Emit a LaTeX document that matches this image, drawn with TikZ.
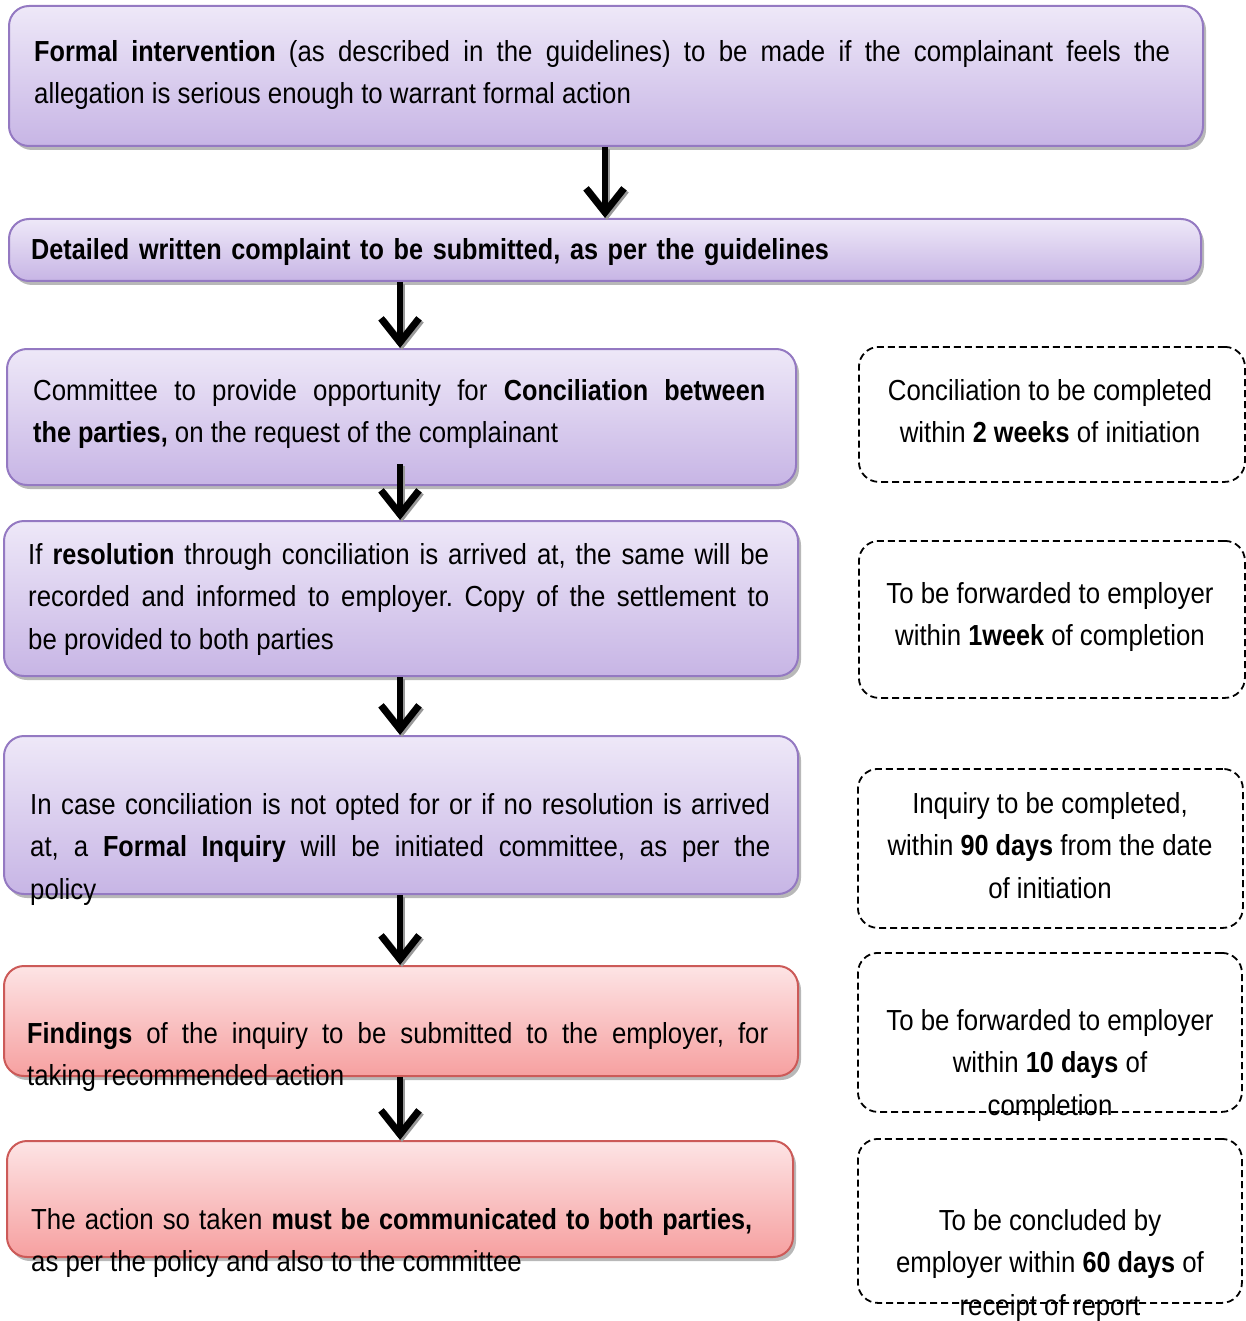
\documentclass[tikz,border=0pt]{standalone}
\usepackage{fontspec}
\setmainfont{Liberation Sans}[FakeStretch=0.89, BoldFeatures={FakeStretch=0.87}]
\usetikzlibrary{arrows.meta,shadows}
\setlength\parindent{0pt}
\hyphenpenalty=10000
\exhyphenpenalty=10000
\frenchspacing
\definecolor{ptop}{HTML}{EEE8F8}
\definecolor{pbot}{HTML}{C7B5E5}
\definecolor{pline}{HTML}{9479C2}
\definecolor{rtop}{HTML}{FDE4E5}
\definecolor{rbot}{HTML}{F6A0A0}
\definecolor{rline}{HTML}{CC5A58}
\tikzset{
  box/.style={draw, line width=2pt, rounded corners=20pt, anchor=north west, inner sep=0pt,
    drop shadow={shadow xshift=3pt, shadow yshift=-4pt, fill=black!35, opacity=0.8}},
  pbox/.style={box, draw=pline, top color=ptop, bottom color=pbot},
  rbox/.style={box, draw=rline, top color=rtop, bottom color=rbot},
  dbox/.style={draw, line width=1.8pt, dash pattern=on 7pt off 4pt, rounded corners=20pt,
    anchor=north west, inner sep=0pt},
  txt/.style={anchor=north west, inner sep=0pt, align=justify,
    font=\fontsize{29}{42.5}\selectfont\frenchspacing},
  ctxt/.style={anchor=north, inner sep=0pt, align=center,
    font=\fontsize{29}{42.5}\selectfont},
  arr/.style={line width=6.5pt, -{Straight Barb[length=24pt,width=38pt,line width=7pt]}},
  arrshadow/.style={arr, draw=black!40, transform canvas={xshift=2pt,yshift=-2pt}}
}
\begin{document}
\begin{tikzpicture}[x=1pt,y=-1pt]
\useasboundingbox (0,0) rectangle (1245,1321);
% main boxes
\node[pbox, minimum width=1194pt, minimum height=140pt] (b1) at (8,5) {};
\node[pbox, minimum width=1192pt, minimum height=62pt] (b2) at (8,218) {};
\node[pbox, minimum width=789pt, minimum height=136pt] (b3) at (6,348) {};
\node[pbox, minimum width=794pt, minimum height=155pt] (b4) at (3,520) {};
\node[pbox, minimum width=794pt, minimum height=158pt] (b5) at (3,735) {};
\node[rbox, minimum width=794pt, minimum height=110pt] (b6) at (3,965) {};
\node[rbox, minimum width=786pt, minimum height=116pt] (b7) at (6,1140) {};
% dashed boxes
\node[dbox, minimum width=386pt, minimum height=135pt] (d1) at (858,346) {};
\node[dbox, minimum width=386pt, minimum height=157pt] (d2) at (858,540) {};
\node[dbox, minimum width=385pt, minimum height=159pt] (d3) at (857,768) {};
\node[dbox, minimum width=384pt, minimum height=159pt] (d4) at (857,952) {};
\node[dbox, minimum width=384pt, minimum height=164pt] (d5) at (857,1138) {};
% texts in main boxes
\node[txt, text width=1136pt] (t1) at (34,40) {\textbf{Formal intervention} (as described in the guidelines) to be made if the complainant feels the\linebreak allegation is serious enough to warrant formal action};
\node[txt, text width=1000pt, align=left] (t2) at (31,238) {\textbf{Detailed written complaint to be submitted, as per the guidelines}};
\node[txt, text width=732pt] (t3) at (33,379) {Committee to provide opportunity for \textbf{Conciliation between}\linebreak \textbf{the parties,} on the request of the complainant};
\node[txt, text width=741pt] (t4) at (28,543) {If \textbf{resolution} through conciliation is arrived at, the same will be\linebreak recorded and informed to employer. Copy of the settlement to\linebreak be provided to both parties};
\node[txt, text width=740pt] (t5) at (30,793) {In case conciliation is not opted for or if no resolution is arrived\linebreak at, a \textbf{Formal Inquiry} will be initiated committee, as per the\linebreak policy};
\node[txt, text width=741pt] (t6) at (27,1022) {\textbf{Findings} of the inquiry to be submitted to the employer, for\linebreak taking recommended action};
\node[txt, text width=721pt] (t7) at (31,1208) {The action so taken \textbf{must be communicated to both parties,}\linebreak as per the policy and also to the committee};
% texts in dashed boxes
\node[ctxt] (s1) at (1050,379) {Conciliation to be completed\\within \textbf{2 weeks} of initiation};
\node[ctxt] (s2) at (1050,582) {To be forwarded to employer\\within \textbf{1week} of completion};
\node[ctxt] (s3) at (1050,792) {Inquiry to be completed,\\within \textbf{90 days} from the date\\of initiation};
\node[ctxt] (s4) at (1050,1009) {To be forwarded to employer\\within \textbf{10 days} of\\completion};
\node[ctxt] (s5) at (1050,1209) {To be concluded by\\employer within \textbf{60 days} of\\receipt of report};
% arrows
\coordinate (ax1) at (605,0);
\coordinate (ax2) at (400,0);
\foreach \s in {arrshadow, arr} {
  \draw[\s] (b1.south -| ax1) -- (b2.north -| ax1);
  \draw[\s] (b2.south -| ax2) -- (b3.north -| ax2);
  \draw[\s] ([yshift=22pt]b3.south -| ax2) -- (b4.north -| ax2);
  \draw[\s] (b4.south -| ax2) -- (b5.north -| ax2);
  \draw[\s] (b5.south -| ax2) -- (b6.north -| ax2);
  \draw[\s] (b6.south -| ax2) -- (b7.north -| ax2);
}
\end{tikzpicture}
\end{document}
